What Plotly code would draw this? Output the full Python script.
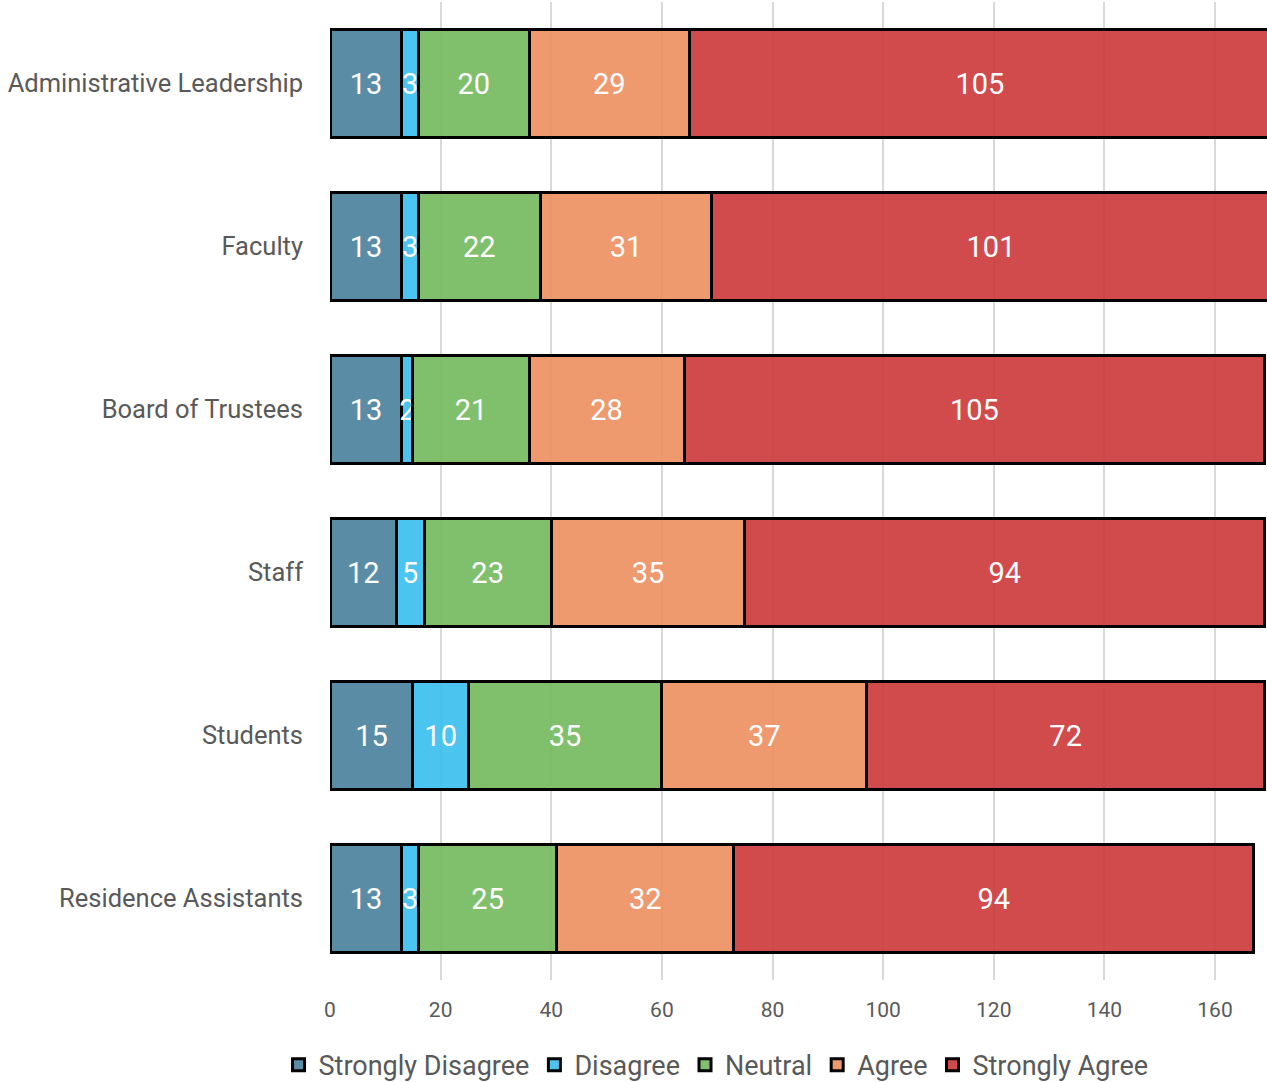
import plotly.graph_objects as go

categories = ["Administrative Leadership", "Faculty", "Board of Trustees",
              "Staff", "Students", "Residence Assistants"]
series_names = ["Strongly Disagree", "Disagree", "Neutral", "Agree", "Strongly Agree"]
strongly_disagree = [13, 13, 13, 12, 15, 13]
disagree = [3, 3, 2, 5, 10, 3]
neutral = [20, 22, 21, 23, 35, 25]
agree = [29, 31, 28, 35, 37, 32]
strongly_agree = [105, 101, 105, 94, 72, 94]
x_ticks = [0, 20, 40, 60, 80, 100, 120, 140, 160]

series_values = [strongly_disagree, disagree, neutral, agree, strongly_agree]
colors = ["rgba(72,128,156,0.9)", "rgba(57,190,238,0.9)", "rgba(114,185,92,0.9)",
          "rgba(236,143,94,0.9)", "rgba(204,55,56,0.9)"]

FONT = "Roboto"
fig = go.Figure()
for name, vals, col in zip(series_names, series_values, colors):
    fig.add_trace(go.Bar(
        y=categories, x=vals, name=name, orientation="h",
        marker=dict(color=col, line=dict(color="black", width=3)),
        text=[str(v) for v in vals], textposition="inside",
        insidetextanchor="middle", constraintext="none", textangle=0,
        insidetextfont=dict(color="white", size=29, family=FONT),
        cliponaxis=True,
    ))

fig.update_layout(
    barmode="stack", bargap=0.34,
    width=1267, height=1082,
    margin=dict(l=330, r=0, t=2, b=102, autoexpand=False),
    plot_bgcolor="white", paper_bgcolor="white",
    font=dict(family=FONT, color="#595959"),
    uniformtext=dict(mode=False),
    legend=dict(orientation="h", x=0.412, xanchor="center",
                y=-0.087, yanchor="middle",
                font=dict(size=27, color="#595959", family=FONT), traceorder="normal",
                itemwidth=30),
    showlegend=True,
)
fig.update_xaxes(range=[0, 169.4], tickvals=x_ticks, showgrid=True, gridcolor="#d9d9d9",
                 gridwidth=1.5, zeroline=False, showline=False, ticks="", automargin=False,
                 tickfont=dict(size=21, color="#595959"), ticklabelstandoff=15)
fig.update_yaxes(autorange="reversed", showgrid=False, zeroline=False, showline=False,
                 ticks="", automargin=False,
                 tickfont=dict(size=25.5, color="#595959"), ticklabelstandoff=26)

fig.write_html("out.html")
